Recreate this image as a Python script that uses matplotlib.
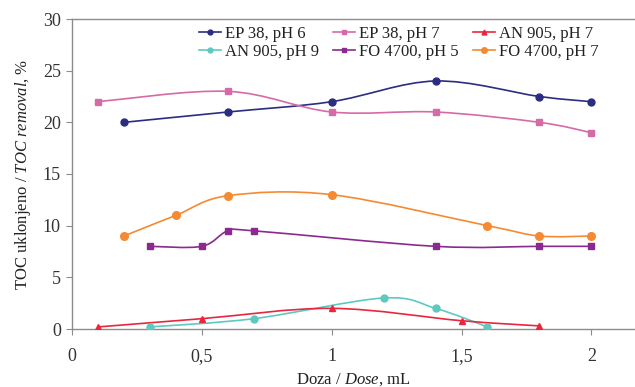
import matplotlib
matplotlib.use('Agg')
import matplotlib.pyplot as plt
from matplotlib.path import Path
from matplotlib.patches import PathPatch
from matplotlib.lines import Line2D

plt.rcParams['font.family'] = ['Liberation Serif', 'DejaVu Serif']
plt.rcParams['mathtext.fontset'] = 'custom'
plt.rcParams['mathtext.rm'] = 'Liberation Serif'
plt.rcParams['mathtext.it'] = 'Liberation Serif:italic'

# data
ep38_ph6_x = [0.2, 0.6, 1.0, 1.4, 1.8, 2.0]
ep38_ph6_y = [20, 21, 22, 24, 22.5, 22]
ep38_ph7_x = [0.1, 0.6, 1.0, 1.4, 1.8, 2.0]
ep38_ph7_y = [22, 23, 21, 21, 20, 19]
an905_ph7_x = [0.1, 0.5, 1.0, 1.5, 1.8]
an905_ph7_y = [0.2, 1.0, 2.0, 0.8, 0.3]
an905_ph9_x = [0.3, 0.7, 1.2, 1.4, 1.6]
an905_ph9_y = [0.2, 1.0, 3.0, 2.0, 0.2]
fo4700_ph5_x = [0.3, 0.5, 0.6, 0.7, 1.4, 1.8, 2.0]
fo4700_ph5_y = [8, 8, 9.5, 9.5, 8, 8, 8]
fo4700_ph7_x = [0.2, 0.4, 0.6, 1.0, 1.6, 1.8, 2.0]
fo4700_ph7_y = [9, 11, 12.9, 13, 10, 9, 9]

# legend fills column-wise, so this order gives the reference's rows
series = [
    ('EP 38, pH 6', ep38_ph6_x, ep38_ph6_y, '#2b2d80', 'o', 5),
    ('AN 905, pH 9', an905_ph9_x, an905_ph9_y, '#5ec9bf', 'o', 5),
    ('EP 38, pH 7', ep38_ph7_x, ep38_ph7_y, '#d66aa6', 's', 4.5),
    ('FO 4700, pH 5', fo4700_ph5_x, fo4700_ph5_y, '#8a2a8e', 's', 4.5),
    ('AN 905, pH 7', an905_ph7_x, an905_ph7_y, '#e8263e', '^', 5),
    ('FO 4700, pH 7', fo4700_ph7_x, fo4700_ph7_y, '#f58a32', 'o', 5.5),
]


def smooth_path(xs, ys):
    """Excel-like smoothed line: cubic bezier through every point"""
    pts = list(zip(xs, ys))
    verts = [pts[0]]
    codes = [Path.MOVETO]
    n = len(pts)
    for i in range(n - 1):
        p0 = pts[i - 1] if i > 0 else pts[i]
        p1 = pts[i]
        p2 = pts[i + 1]
        p3 = pts[i + 2] if i + 2 < n else pts[i + 1]
        c1 = (p1[0] + (p2[0] - p0[0]) / 6, p1[1] + (p2[1] - p0[1]) / 6)
        c2 = (p2[0] - (p3[0] - p1[0]) / 6, p2[1] - (p3[1] - p1[1]) / 6)
        verts += [c1, c2, p2]
        codes += [Path.CURVE4] * 3
    return Path(verts, codes)


fig = plt.figure(figsize=(6.35, 3.87), dpi=100)
ax = fig.add_axes([72 / 635, 58 / 387, 1 - 72 / 635, 310 / 387])

handles = []
for label, xs, ys, col, mk, ms in series:
    ax.add_patch(PathPatch(smooth_path(xs, ys), fill=False, edgecolor=col,
                           lw=1.2, zorder=2))
    ax.plot(xs, ys, linestyle='none', marker=mk, color=col, ms=ms, zorder=3)
    handles.append(Line2D([], [], color=col, marker=mk, ms=ms - 1.5, lw=1.2))

ax.set_xlim(0, 2.168)
ax.set_ylim(0, 30)
ax.set_xticks([0, 0.5, 1, 1.5, 2])
ax.set_xticklabels(['0', '0,5', '1', '1,5', '2'])
ax.set_yticks([0, 5, 10, 15, 20, 25, 30])

for side in ['left', 'bottom', 'top']:
    ax.spines[side].set_color('#8c8c8c')
    ax.spines[side].set_linewidth(1.0)
ax.spines['right'].set_visible(False)
ax.tick_params(axis='both', colors='#8c8c8c', labelcolor='#333333',
               labelsize=13, length=4, direction='out')
ax.tick_params(axis='x', pad=10)
ax.tick_params(axis='y', pad=4)

ax.set_xlabel(r'Doza / $\mathit{Dose}$, mL', fontsize=12, color='#222222',
              labelpad=4)
ax.set_ylabel(r'TOC uklonjeno / $\mathit{TOC\ removal}$, %', fontsize=12,
              color='#222222', labelpad=7)

ax.legend(handles=handles, labels=[s[0] for s in series], ncol=3,
          loc='upper left', bbox_to_anchor=(191 / 635, 369 / 387),
          bbox_transform=fig.transFigure, frameon=False, fontsize=12,
          handlelength=1.3, handletextpad=0.25, columnspacing=0.85,
          labelspacing=0.1, borderpad=0, labelcolor='#222222')

fig.savefig('out.png', dpi=100)
